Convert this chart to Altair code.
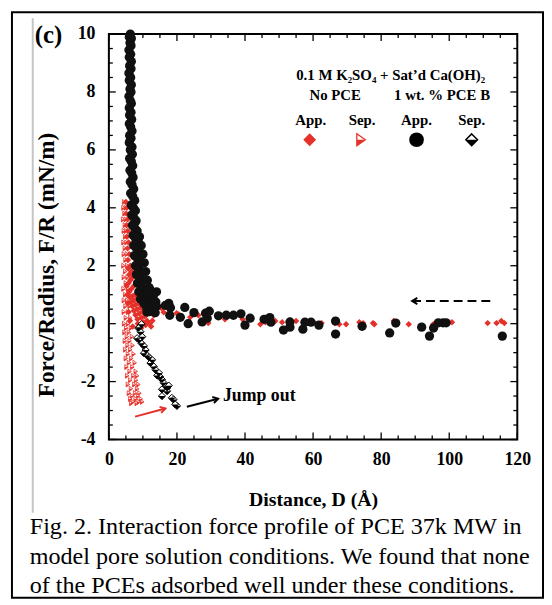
import altair as alt
import pandas as pd

# ---------------- data ----------------
# 1 wt.% PCE B, approach (black circles)
black_app_d = [6.3, 6.0, 6.6, 6.2, 6.5, 5.9, 6.4, 6.0, 6.6, 6.1,
               6.5, 5.9, 6.4, 6.0, 6.6, 6.2, 6.5, 5.9, 6.3, 6.6,
               6.0, 6.5, 6.1, 6.7, 6.0, 6.4, 6.8, 6.1, 6.5, 6.0,
               6.8, 6.3, 6.9, 6.1, 6.6, 7.0, 6.2, 6.7, 7.1, 6.3,
               6.8, 7.3, 6.4, 7.0, 7.6, 6.6, 7.2, 7.8, 6.7, 7.4,
               8.0, 6.9, 7.6, 8.3, 7.1, 7.8, 8.6, 7.3, 8.1, 8.9,
               7.5, 8.4, 9.2, 7.8, 8.7, 9.6, 8.1, 9.0, 9.9, 8.4,
               9.4, 10.3, 8.8, 9.8, 10.9, 9.3, 11.6, 10.3, 12.4, 11.1,
               13.0, 12.0, 13.6,
               9.0, 9.5, 10.0, 10.4, 10.8, 11.3, 11.8, 12.4, 13.0, 14.0,
               11.2, 12.0, 12.6, 13.0, 13.8, 14.0, 16.6, 17.6, 18.1, 17.9,
               21.0, 22.3, 23.3, 25.0, 27.4, 28.4, 29.5, 28.9, 32.2, 34.5,
               36.6, 38.8, 40.0, 41.5, 45.6, 47.3, 47.6, 51.3, 53.2, 53.2,
               57.0, 57.6, 59.4, 61.7, 66.6, 66.6, 74.4, 82.5, 84.3, 91.9,
               94.2, 95.4, 96.8, 98.2, 99.1, 115.6]
black_app_f = [10.0, 9.9, 9.85, 9.7, 9.6, 9.45, 9.3, 9.2, 9.05, 8.9,
               8.8, 8.65, 8.5, 8.4, 8.25, 8.1, 8.0, 7.85, 7.7, 7.6,
               7.45, 7.3, 7.2, 7.05, 6.9, 6.8, 6.65, 6.5, 6.4, 6.25,
               6.1, 6.0, 5.85, 5.7, 5.6, 5.45, 5.3, 5.2, 5.05, 4.9,
               4.8, 4.65, 4.5, 4.4, 4.25, 4.1, 4.0, 3.9, 3.75, 3.65,
               3.55, 3.4, 3.3, 3.2, 3.05, 2.95, 2.85, 2.7, 2.6, 2.5,
               2.35, 2.25, 2.15, 2.0, 1.9, 1.8, 1.7, 1.6, 1.5, 1.4,
               1.3, 1.2, 1.1, 1.0, 0.95, 0.85, 0.8, 0.7, 0.65, 0.55,
               0.5, 0.42, 0.38,
               3.0, 2.7, 2.4, 2.1, 1.8, 1.5, 1.25, 1.0, 0.8, 0.6,
               0.4, 1.2, 0.63, 0.95, 0.75, 1.1, 0.63, 0.7, 0.55, 0.29,
               0.22, 0.56, 0.0, 0.38, 0.06, 0.36, 0.43, 0.19, 0.27, 0.29,
               0.29, 0.34, -0.05, 0.19, 0.15, 0.21, 0.05, -0.22, 0.06, -0.12,
               -0.19, 0.05, 0.05, -0.05, 0.09, -0.36, -0.09, -0.32, 0.02, -0.12,
               -0.43, -0.15, 0.03, 0.03, 0.03, -0.43]

# 1 wt.% PCE B, separation (half-filled diamonds)
black_sep_d = [8.9, 9.6, 8.7, 9.3, 9.8, 8.3, 8.9, 9.6, 10.3, 10.8,
               10.3, 11.3, 11.8, 12.7, 12.2, 13.2, 13.7, 14.7, 14.2, 15.1,
               15.6, 16.1, 16.6, 17.1, 17.6, 15.6, 17.1, 15.6, 18.5, 19.0,
               20.0, 19.5]
black_sep_f = [-0.12, -0.02, -0.16, -0.28, -0.45, -0.5, -0.56, -0.68, -0.77, -0.91,
               -1.02, -1.1, -1.16, -1.25, -1.36, -1.48, -1.59, -1.70, -1.79, -1.84,
               -1.93, -2.04, -2.16, -2.22, -2.14, -2.27, -2.33, -2.5, -2.56, -2.62,
               -2.84, -2.79]

# No PCE, approach (red diamonds)
red_app_d = [5.0, 5.3, 5.1, 5.5, 5.2, 5.6, 5.3, 5.8, 5.5, 6.0,
             5.6, 6.3, 5.7, 6.7, 6.0, 7.0, 6.3, 5.8, 7.3, 6.6,
             6.0, 7.7, 6.9, 6.2, 8.2, 7.3, 6.5, 8.7, 7.8, 6.9,
             9.3, 8.3, 7.3, 9.9, 8.9, 7.8, 10.5, 9.5, 8.4, 11.2,
             10.1, 12.0, 10.8, 12.8, 12.4,
             5.2, 5.4, 5.6, 5.8, 6.2, 7.0, 8.5, 9.5, 10.8, 11.5,
             13.2, 15.5, 16.1, 19.9, 20.5, 23.9, 26.3, 29.2, 34.1, 39.3,
             44.5, 46.0, 48.9, 50.9, 53.0, 55.0, 57.3, 60.2, 62.5, 66.3,
             67.7, 69.7, 73.6, 74.7, 77.6, 78.0, 83.7, 88.1, 95.3, 96.5,
             98.8, 100.8, 111.3, 113.9, 115.3, 116.2]
red_app_f = [4.2, 4.0, 3.8, 3.6, 3.4, 3.2, 3.0, 2.8, 2.6, 2.4,
             2.2, 2.0, 1.9, 1.8, 1.7, 1.6, 1.5, 1.4, 1.3, 1.2,
             1.1, 1.0, 0.95, 0.9, 0.85, 0.8, 0.75, 0.7, 0.65, 0.6,
             0.55, 0.5, 0.45, 0.4, 0.35, 0.3, 0.25, 0.2, 0.15, 0.1,
             0.05, 0.0, -0.05, 0.1, -0.1,
             1.3, 1.0, 0.7, 0.4, 0.1, -0.1, 0.0, -0.15, 0.3, 0.5,
             0.29, 0.53, 0.39, 0.36, 0.32, 0.22, 0.29, 0.02, 0.15, 0.15,
             -0.02, 0.05, 0.09, 0.05, 0.09, 0.09, 0.05, 0.05, 0.02, 0.02,
             -0.02, -0.02, 0.05, 0.02, 0.02, -0.02, 0.09, -0.02, -0.02, 0.02,
             0.02, 0.05, 0.02, 0.02, 0.09, 0.02]

# No PCE, separation (small half-filled triangles)
red_sep_d = [4.5, 4.3, 5.0, 4.6, 4.2, 5.0, 4.7, 4.4, 5.1, 4.8,
             4.3, 5.2, 4.7, 4.4, 5.3, 4.9, 4.3, 5.4, 4.8, 4.4,
             5.5, 5.0, 4.3, 5.6, 4.8, 5.9, 4.4, 5.4, 4.9, 6.1,
             4.4, 5.6, 5.0, 6.3, 4.5, 5.7, 5.1, 6.5, 4.6, 5.9,
             5.3, 6.8, 4.7, 6.1, 5.5, 7.0, 4.8, 6.3, 5.6, 7.3,
             5.0, 6.6, 5.9, 7.6, 5.2, 6.9, 6.1, 7.9, 5.4, 7.2,
             8.3, 6.3, 8.0, 5.6, 7.5, 8.7, 6.5, 8.3, 5.9, 7.7,
             9.0, 6.8, 8.6, 6.3, 7.9, 9.4, 7.1, 8.8, 9.8, 6.6,
             8.2]
red_sep_f = [4.2, 4.0, 4.0, 3.8, 3.6, 3.6, 3.4, 3.2, 3.2, 3.0,
             2.8, 2.8, 2.6, 2.4, 2.4, 2.2, 2.0, 2.0, 1.8, 1.6,
             1.6, 1.4, 1.2, 1.2, 1.0, 1.0, 0.8, 0.8, 0.6, 0.6,
             0.4, 0.4, 0.2, 0.2, 0.0, 0.0, -0.15, -0.15, -0.3, -0.3,
             -0.45, -0.45, -0.6, -0.6, -0.75, -0.75, -0.9, -0.9, -1.05, -1.05,
             -1.2, -1.2, -1.35, -1.35, -1.5, -1.5, -1.65, -1.65, -1.8, -1.8,
             -1.8, -1.95, -1.95, -2.1, -2.1, -2.1, -2.25, -2.25, -2.4, -2.4,
             -2.4, -2.5, -2.5, -2.6, -2.6, -2.6, -2.7, -2.7, -2.7, -2.75,
             -2.75]

# axes
x_major = [0, 20, 40, 60, 80, 100, 120]
x_minor = [5, 10, 15, 25, 30, 35, 45, 50, 55, 65, 70, 75, 85, 90, 95, 105, 110, 115]
y_major = [-4, -2, 0, 2, 4, 6, 8, 10]
y_minor = [-3.5, -3, -2.5, -1.5, -1, -0.5, 0.5, 1, 1.5, 2.5, 3, 3.5,
           4.5, 5, 5.5, 6.5, 7, 7.5, 8.5, 9, 9.5]

# legend
legend_text = ["0.1 M K\u2082SO\u2084 + Sat\u2019d Ca(OH)\u2082", "No PCE", "1 wt. % PCE B",
               "App.", "Sep.", "App.", "Sep."]
legend_tx = [82.8, 66.5, 97.9, 59.3, 74.4, 90.4, 106.6]
legend_ty = [8.57, 7.88, 7.88, 7.03, 7.03, 7.03, 7.03]
legend_sym_x = [59.0, 74.1, 90.4, 106.6]
legend_sym_y = [6.35, 6.35, 6.35, 6.35]

# annotations
arrow_x = [7.7, 22.9]
arrow_y = [-3.21, -2.87]
arrow_x2 = [16.6, 32.1]
arrow_y2 = [-2.93, -2.59]
dash_x = [89.1]
dash_x2 = [112.8]
dash_y = [0.78]
jump_text = ["Jump out"]
jump_x = [33.5]
jump_y = [-2.51]

caption_lines = ["Fig. 2. Interaction force profile of PCE 37k MW in",
                 "model pore solution conditions. We found that none",
                 "of the PCEs adsorbed well under these conditions."]

# ---------------- chart ----------------
W, H = 413, 410
RED = "#e5312a"
SERIF = "Liberation Serif"

xs = alt.Scale(domain=[0, 120], nice=False, zero=False)
ys = alt.Scale(domain=[-4, 10], nice=False, zero=False)

DIAMOND = "M0,-1L1,0L0,1L-1,0Z"
DIAMOND_LOW = "M-1,0L1,0L0,1Z"
TRI = "M-0.7,-1L0.7,0L-0.7,1Z"
TRI_LOW = "M-0.7,0L0.7,0L-0.7,1Z"
CHEV = "M-1,-0.6L0,0L-1,0.6"

one = pd.DataFrame({"a": [0]})

XT = "Distance, D (\u00c5)"
YT = "Force/Radius, F/R (mN/m)"

xaxis = alt.Axis(values=x_major, title=XT, ticks=False, domain=False, grid=False,
                 labelFont=SERIF, labelFontWeight="bold", labelFontSize=18, labelColor="black",
                 labelPadding=11, labelFlush=False, labelExpr="'' + datum.value",
                 titleFont=SERIF, titleFontWeight="bold", titleFontSize=20, titleColor="black",
                 titleY=67, titleBaseline="alphabetic")
yaxis = alt.Axis(values=y_major, title=YT, ticks=False, domain=False, grid=False,
                 labelFont=SERIF, labelFontWeight="bold", labelFontSize=18, labelColor="black",
                 labelPadding=14, labelFlush=False, labelExpr="'' + datum.value",
                 titleFont=SERIF, titleFontWeight="bold", titleFontSize=23.5, titleColor="black",
                 titleX=-63, titleY=233, titleBaseline="middle")


def X(field="d"):
    return alt.X(f"{field}:Q", scale=xs, axis=xaxis, title=XT)


def Y(field="f"):
    return alt.Y(f"{field}:Q", scale=ys, axis=yaxis, title=YT)


border = alt.Chart(one).mark_rect(fillOpacity=0, stroke="black", strokeWidth=2).encode(
    x=alt.value(-98), x2=alt.value(439), y=alt.value(-22), y2=alt.value(570))
grayline = alt.Chart(one).mark_rule(color="#c4c4c4", strokeWidth=2).encode(
    x=alt.value(-77), y=alt.value(-16), y2=alt.value(484))

dxM = pd.DataFrame({"v": x_major})
dxm = pd.DataFrame({"v": x_minor})
dyM = pd.DataFrame({"v": y_major})
dym = pd.DataFrame({"v": y_minor})


def xticks(df, L):
    b = alt.Chart(df).mark_rule(color="black", strokeWidth=1.3)
    return [b.encode(x=X("v"), y=alt.value(H), y2=alt.value(H - L)),
            b.encode(x=X("v"), y=alt.value(0), y2=alt.value(L))]


def yticks(df, L):
    b = alt.Chart(df).mark_rule(color="black", strokeWidth=1.3)
    return [b.encode(y=Y("v"), x=alt.value(0), x2=alt.value(L)),
            b.encode(y=Y("v"), x=alt.value(W), x2=alt.value(W - L))]


ticks = xticks(dxM, 7) + xticks(dxm, 4) + yticks(dyM, 7) + yticks(dym, 4)

dba = pd.DataFrame({"d": black_app_d, "f": black_app_f})
dbs = pd.DataFrame({"d": black_sep_d, "f": black_sep_f})
dra = pd.DataFrame({"d": red_app_d, "f": red_app_f})
drs = pd.DataFrame({"d": red_sep_d, "f": red_sep_f})

red_sep_o = alt.Chart(drs).mark_point(shape=TRI, filled=True, fill="white", stroke=RED,
                                      strokeWidth=0.8, size=26, opacity=1).encode(x=X(), y=Y())
red_sep_h = alt.Chart(drs).mark_point(shape=TRI_LOW, filled=True, color=RED, size=26,
                                      opacity=1).encode(x=X(), y=Y())
red_app = alt.Chart(dra).mark_point(shape="diamond", filled=True, color=RED, size=42,
                                    opacity=1).encode(x=X(), y=Y())
black_app = alt.Chart(dba).mark_point(shape="circle", filled=True, color="#111111", size=88,
                                      opacity=1).encode(x=X(), y=Y())
black_sep_o = alt.Chart(dbs).mark_point(shape=DIAMOND, filled=True, fill="white", stroke="black",
                                        strokeWidth=1, size=52, opacity=1).encode(x=X(), y=Y())
black_sep_h = alt.Chart(dbs).mark_point(shape=DIAMOND_LOW, filled=True, color="black", size=52,
                                        opacity=1).encode(x=X(), y=Y())

# legend
dleg = pd.DataFrame({"x": legend_tx, "y": legend_ty, "t": legend_text})
leg_text = alt.Chart(dleg).mark_text(font=SERIF, fontWeight="bold", fontSize=15, color="black",
                                     align="center", baseline="middle").encode(
    x=X("x"), y=Y("y"), text="t:N")
dsym = pd.DataFrame({"x": legend_sym_x, "y": legend_sym_y})
s0 = dsym.iloc[[0]]
s1 = dsym.iloc[[1]]
s2 = dsym.iloc[[2]]
s3 = dsym.iloc[[3]]
leg_syms = [
    alt.Chart(s0).mark_point(shape="diamond", filled=True, color=RED, size=170, opacity=1).encode(x=X("x"), y=Y("y")),
    alt.Chart(s1).mark_point(shape=TRI, filled=True, fill="white", stroke=RED, strokeWidth=1.3, size=150, opacity=1).encode(x=X("x"), y=Y("y")),
    alt.Chart(s1).mark_point(shape=TRI_LOW, filled=True, color=RED, size=150, opacity=1).encode(x=X("x"), y=Y("y")),
    alt.Chart(s2).mark_point(shape="circle", filled=True, color="black", size=220, opacity=1).encode(x=X("x"), y=Y("y")),
    alt.Chart(s3).mark_point(shape=DIAMOND, filled=True, fill="white", stroke="black", strokeWidth=1.5, size=140, opacity=1).encode(x=X("x"), y=Y("y")),
    alt.Chart(s3).mark_point(shape=DIAMOND_LOW, filled=True, color="black", size=140, opacity=1).encode(x=X("x"), y=Y("y")),
]

# arrows
darr = pd.DataFrame({"x": arrow_x, "y": arrow_y, "x2": arrow_x2, "y2": arrow_y2,
                     "c": [RED, "black"]})
arr_shaft = alt.Chart(darr).mark_rule(strokeWidth=2).encode(
    x=X("x"), y=Y("y"), x2="x2:Q", y2="y2:Q", color=alt.Color("c:N", scale=None))
arr_head = alt.Chart(darr).mark_point(shape=CHEV, filled=False, strokeWidth=2, size=110,
                                      angle=345, opacity=1).encode(
    x=X("x2"), y=Y("y2"), color=alt.Color("c:N", scale=None))
ddash = pd.DataFrame({"x": dash_x, "x2": dash_x2, "y": dash_y})
dash_shaft = alt.Chart(ddash).mark_rule(strokeWidth=2, color="black", strokeDash=[9, 5]).encode(
    x=X("x"), x2="x2:Q", y=Y("y"))
dash_head = alt.Chart(ddash).mark_point(shape=CHEV, filled=False, strokeWidth=2, size=110,
                                        angle=180, color="black", opacity=1).encode(x=X("x"), y=Y("y"))
djump = pd.DataFrame({"x": jump_x, "y": jump_y, "t": jump_text})
jump = alt.Chart(djump).mark_text(font=SERIF, fontWeight="bold", fontSize=18, color="black",
                                  align="left", baseline="middle").encode(x=X("x"), y=Y("y"), text="t:N")

label_c = alt.Chart(one).mark_text(text="(c)", font=SERIF, fontWeight="bold", fontSize=25,
                                   color="black", align="left", baseline="middle").encode(
    x=alt.value(-75), y=alt.value(1.5))

caption = [
    alt.Chart(one).mark_text(text=t, font=SERIF, fontSize=24.4, color="black", align="left",
                             baseline="alphabetic").encode(x=alt.value(-80), y=alt.value(py))
    for t, py in zip(caption_lines, [506, 535.5, 565])
]

chart = alt.layer(
    border, grayline, *ticks,
    red_sep_o, red_sep_h, red_app, black_app, black_sep_o, black_sep_h,
    leg_text, *leg_syms,
    arr_shaft, arr_head, dash_shaft, dash_head, jump, label_c, *caption,
).properties(
    width=W, height=H,
    padding={"left": 102, "top": 23, "right": 27, "bottom": 163},
    autosize=alt.AutoSizeParams(type="none"),
).configure_view(stroke="black", strokeWidth=2)

chart.save("out.html", embed_options={"renderer": "svg", "actions": False})
